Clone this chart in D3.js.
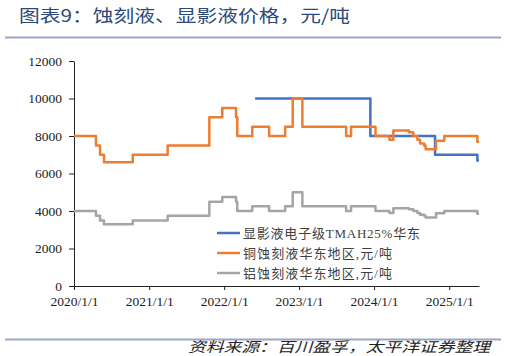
<!DOCTYPE html>
<html><head><meta charset="utf-8">
<script src="https://cdn.jsdelivr.net/npm/d3@7"></script>
<style>
html,body{margin:0;padding:0;background:#fff;}
svg{display:block;}
</style></head>
<body>
<svg id="c" width="507" height="356"></svg>
<script>
// ---- data ----
const etchDates = ["2020-01-01","2020-04-17","2020-05-07","2020-05-26","2020-10-13","2021-04-01","2021-10-21","2021-12-23","2022-02-28","2022-03-06","2022-05-18","2022-08-08","2022-10-25","2022-12-01","2023-01-17","2023-08-18","2023-09-11","2024-01-08","2024-03-16","2024-04-04","2024-06-19","2024-07-10","2024-07-30","2024-08-12","2024-09-01","2024-09-08","2024-10-29","2024-12-08","2025-05-18","2025-05-26"];
const copperValues = [8000,7500,7000,6600,7000,7500,9000,9500,9000,8000,8500,8000,8500,10000,8500,8000,8500,8000,7800,8300,8200,8000,7800,7600,7500,7300,7750,8000,7700,7700];
const aluminumValues = [4000,3750,3500,3300,3500,3750,4500,4750,4500,4000,4250,4000,4250,5000,4250,4000,4250,4000,3900,4150,4100,4000,3900,3800,3750,3650,3875,4000,3850,3850];
const tmahDates = ["2022-06-01","2023-12-14","2024-10-24","2025-05-18","2025-05-26"];
const tmahValues = [10000,8000,7000,6700,6700];
const xTickLabels = ["2020/1/1","2021/1/1","2022/1/1","2023/1/1","2024/1/1","2025/1/1"];
const yTicks = [0,2000,4000,6000,8000,10000,12000];
const seriesNames = ["显影液电子级TMAH25%华东","铜蚀刻液华东地区,元/吨","铝蚀刻液华东地区,元/吨"];
const seriesColors = ["#4472C4","#ED7D31","#A5A5A5"];
const titleText = "图表9：蚀刻液、显影液价格，元/吨";
const sourceText = "资料来源：百川盈孚，太平洋证券整理";

const parse = d3.timeParse("%Y-%m-%d");
const svg = d3.select("#c");
const serif = "'Liberation Serif','Times New Roman','Noto Sans CJK SC',serif";
const cjk = "'Noto Sans CJK SC','Liberation Serif',sans-serif";

// title
svg.append("text").attr("x",19).attr("y",22).attr("font-family",cjk)
  .attr("font-size",17).attr("fill","#2C4A78").attr("textLength",331).attr("lengthAdjust","spacingAndGlyphs")
  .text(titleText);
svg.append("line").attr("x1",5).attr("x2",501).attr("y1",37.5).attr("y2",37.5)
  .attr("stroke","#9AA6C6").attr("stroke-width",2);
svg.append("line").attr("x1",5).attr("x2",501).attr("y1",339.5).attr("y2",339.5)
  .attr("stroke","#9AA6C6").attr("stroke-width",2);
svg.append("text").attr("x",490).attr("y",352).attr("text-anchor","end").attr("font-family",cjk)
  .attr("font-style","italic").attr("font-size",14).attr("fill","#222")
  .attr("textLength",302).attr("lengthAdjust","spacingAndGlyphs")
  .text(sourceText);

// scales
const x = d3.scaleTime().domain([parse("2020-01-01"), parse("2025-05-26")]).range([74,479]);
const y = d3.scaleLinear().domain([0,12000]).range([286,61]);

// axes
const xAxis = d3.axisBottom(x)
  .tickValues(xTickLabels.map(s=>{const [yy,mm,dd]=s.split("/");return new Date(+yy,+mm-1,+dd);}))
  .tickFormat((d,i)=>xTickLabels[i]).tickSizeInner(4).tickSizeOuter(0);
const gx = svg.append("g").attr("transform","translate(0,286)").call(xAxis);
gx.attr("font-family",null);
gx.selectAll("text").style("font-family",serif).attr("font-size",13.5).attr("fill","#222").attr("dy","0.95em");
gx.select(".domain").attr("stroke","#222");
gx.selectAll(".tick line").attr("stroke","#222");

const yAxis = d3.axisLeft(y).tickValues(yTicks).tickFormat(d3.format("d")).tickSizeInner(5).tickSizeOuter(0);
const gy = svg.append("g").attr("transform","translate(74,0)").call(yAxis);
gy.attr("font-family",null);
gy.selectAll("text").style("font-family",serif).attr("font-size",13.5).attr("fill","#222").attr("x",-12);
gy.select(".domain").attr("stroke","#222");
gy.selectAll(".tick line").attr("stroke","#222");

// lines
const line = d3.line().x(d=>x(d[0])).y(d=>y(d[1])).curve(d3.curveStepAfter);
const series = [
  {dates: tmahDates, values: tmahValues, color: seriesColors[0]},
  {dates: etchDates, values: copperValues, color: seriesColors[1]},
  {dates: etchDates, values: aluminumValues, color: seriesColors[2]}
];
[series[2], series[0], series[1]].forEach(s=>{
  svg.append("path").datum(s.dates.map((d,i)=>[parse(d), s.values[i]]))
    .attr("d", line).attr("fill","none").attr("stroke", s.color).attr("stroke-width",2.5)
    .attr("stroke-linejoin","round");
});

// legend
const lg = svg.append("g");
seriesNames.forEach((n,i)=>{
  const yy = 233 + i*20;
  lg.append("line").attr("x1",217).attr("x2",240).attr("y1",yy).attr("y2",yy)
    .attr("stroke",seriesColors[i]).attr("stroke-width",2.5);
  lg.append("text").attr("x",243).attr("y",yy).attr("dy","0.35em")
    .style("font-family",serif).attr("font-size",13).attr("fill","#404040")
    .attr("textLength", i===0 ? 177 : 149).attr("lengthAdjust","spacing")
    .text(n);
});
</script>
</body></html>
